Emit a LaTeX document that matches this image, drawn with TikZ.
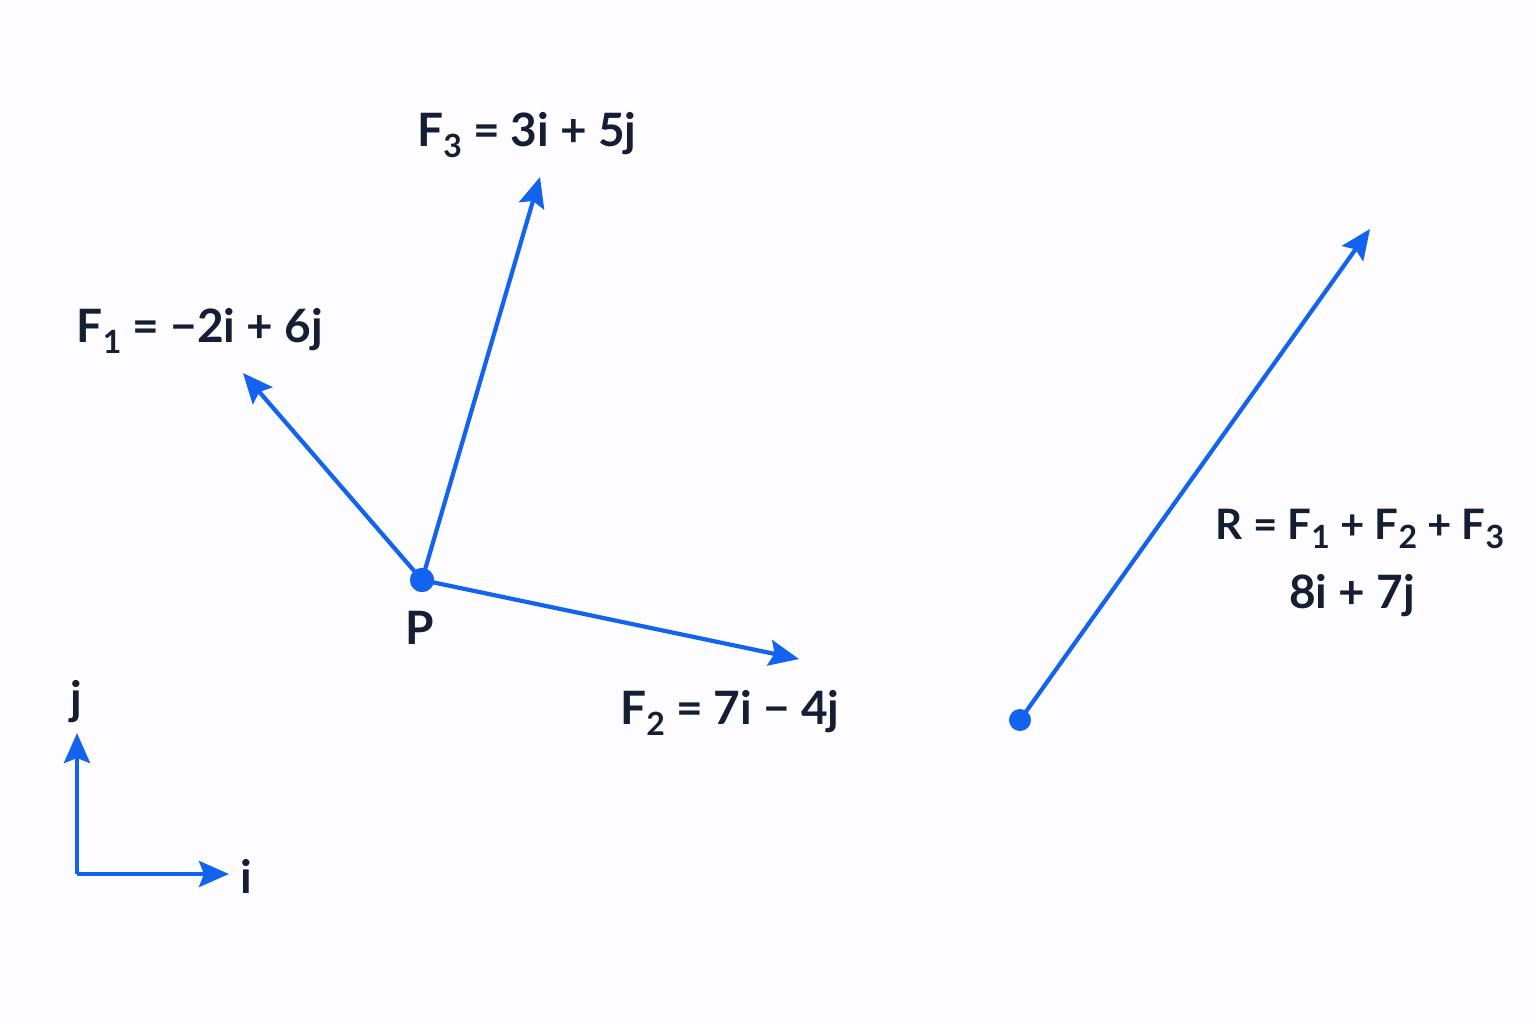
\documentclass[tikz,border=0pt]{standalone}
\usepackage{fontspec}
\setmainfont{Lato}
\usetikzlibrary{arrows.meta}
\definecolor{vblue}{RGB}{18,100,240}
\definecolor{ink}{RGB}{22,30,52}
\newcommand{\sbs}[1]{\raisebox{-0.45ex}{\fontsize{16}{16}\selectfont #1}}
\tikzset{
  vec/.style={draw=vblue, line width=2.1pt, -{Stealth[length=15pt,width=13pt,inset=2.5pt]}},
  lbl/.style={text=ink, font=\fontsize{23}{27}\selectfont\bfseries, inner sep=0pt},
  pdot/.style={circle, fill=vblue, inner sep=0pt, minimum size=#1},
}
\begin{document}
\begin{tikzpicture}[x=0.5pt,y=-0.5pt]
\fill[white!98!blue!40!white] (0,0) rectangle (1536,1024);
\useasboundingbox (0,0) rectangle (1536,1024);
% point P and force vectors
\node[pdot=12pt] (P) at (422,580) {};
\coordinate (t1) at (243,373);
\coordinate (t2) at (799,659);
\coordinate (t3) at (540,177);
\draw[vec] (P.center) -- (t1);
\draw[vec] (P.center) -- (t2);
\draw[vec] (P.center) -- (t3);
\node[pdot=12pt] at (422,580) {};
\node[lbl] (Plbl) at (420,628) {P};
\node[lbl] (F1) at (200,331) {F\sbs{1} = −2i + 6j};
\node[lbl] (F3) at (527,135) {F\sbs{3} = 3i + 5j};
\node[lbl] (F2) at (730,713) {F\sbs{2} = 7i − 4j};
% resultant
\node[pdot=11pt] (R0) at (1020,720) {};
\coordinate (tR) at (1370,229);
\draw[vec] (R0.center) -- (tR);
\node[lbl, font=\fontsize{21}{25}\selectfont\bfseries] (Rlbl) at (1360,529) {R = F\sbs{1} + F\sbs{2} + F\sbs{3}};
\node[lbl] (Rval) at (1352,596) {8i + 7j};
% unit axes
\coordinate (O) at (77,874);
\coordinate (jt) at (77,733);
\coordinate (it) at (229,874);
\draw[vec] (O) -- (jt);
\draw[vec] (O) -- (it);
\node[lbl] (jl) at (76,702) {j};
\node[lbl] (il) at (246,876) {i};
\end{tikzpicture}
\end{document}
